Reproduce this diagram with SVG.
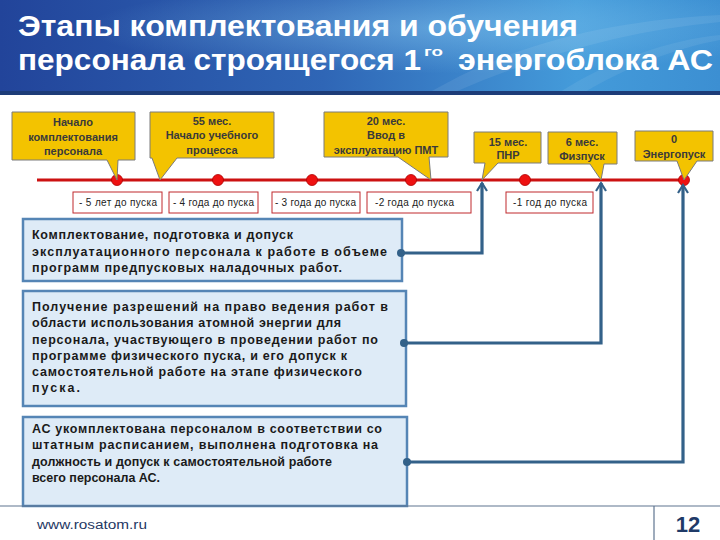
<svg xmlns="http://www.w3.org/2000/svg" width="720" height="540" viewBox="0 0 720 540">
  <defs>
    <linearGradient id="hdr" x1="0" y1="0" x2="1" y2="0">
      <stop offset="0" stop-color="#22449a"/>
      <stop offset="0.45" stop-color="#2f66b6"/>
      <stop offset="0.8" stop-color="#449bda"/>
      <stop offset="1" stop-color="#3c8fd2"/>
    </linearGradient>
    <radialGradient id="glow" cx="0.62" cy="0.3" r="0.5">
      <stop offset="0" stop-color="#8fd0f5" stop-opacity="0.45"/>
      <stop offset="1" stop-color="#8fd0f5" stop-opacity="0"/>
    </radialGradient>
    <marker id="arr" markerUnits="userSpaceOnUse" markerWidth="20" markerHeight="20" refX="0" refY="0" orient="auto" overflow="visible">
      <path d="M-8,-5 L0,0 L-8,5" fill="none" stroke="#336189" stroke-width="2.2"/>
    </marker>
  </defs>
  <style>
    .title{font-family:"Liberation Sans",Arial,sans-serif;font-weight:bold;font-size:29px;fill:#ffffff}
    .call{fill:#f3c300;stroke:#7a7a7a;stroke-width:1}
    .ct{font-family:"Liberation Sans",Arial,sans-serif;font-weight:bold;font-size:11px;fill:#3a3a3a;text-anchor:middle}
    .yl{fill:#ffffff;stroke:#c0282d;stroke-width:1}
    .yt{font-family:"Liberation Sans",Arial,sans-serif;font-size:10px;fill:#222222}
    .dot{fill:#ee1111;stroke:#b00000;stroke-width:0.8}
    .box{fill:#deebf7;stroke:#5585b5;stroke-width:2.5}
    .bt{font-family:"Liberation Sans",Arial,sans-serif;font-weight:bold;font-size:12.5px;fill:#1a1a1a}
    .con{fill:none;stroke:#336189;stroke-width:3.2;stroke-linejoin:miter}
    .cdot{fill:#336189}
  </style>

  <!-- header -->
  <g id="header">
    <rect x="0" y="0" width="720" height="92" fill="url(#hdr)"/>
    <rect x="0" y="0" width="720" height="92" fill="url(#glow)"/>
    <path d="M430,92 C520,40 620,20 720,15 L720,22 C630,30 540,55 455,92 Z" fill="#ffffff" opacity="0.08"/>
    <path d="M560,92 C610,60 670,40 720,35 L720,40 C675,48 625,68 585,92 Z" fill="#ffffff" opacity="0.07"/>
    <rect x="0" y="91" width="720" height="4" fill="#1d3c78"/>
    <text class="title" x="18" y="36" textLength="560" lengthAdjust="spacingAndGlyphs">Этапы комплектования и обучения</text>
    <text class="title" x="18" y="70" textLength="403" lengthAdjust="spacingAndGlyphs">персонала строящегося 1</text>
    <text class="title" x="424" y="56" style="font-size:13px" textLength="19" lengthAdjust="spacingAndGlyphs">го</text>
    <text class="title" x="458" y="70" textLength="255" lengthAdjust="spacingAndGlyphs">энергоблока АС</text>
  </g>

  <!-- timeline -->
  <g id="timeline">
    <line x1="37" y1="180" x2="688" y2="180" stroke="#cc1111" stroke-width="3"/>
    <circle class="dot" cx="117" cy="180" r="5.5"/>
    <circle class="dot" cx="218" cy="180" r="5.5"/>
    <circle class="dot" cx="312" cy="180" r="5.5"/>
    <circle class="dot" cx="411" cy="180" r="5.5"/>
    <circle class="dot" cx="525" cy="180" r="5.5"/>
    <circle class="dot" cx="684" cy="180" r="5.5"/>
  </g>

  <!-- callouts -->
  <g id="callout1">
    <path class="call" d="M12,112 H135 V160 H118 L117,180 L107,160 H12 Z"/>
    <text class="ct" x="73" y="126">Начало</text>
    <text class="ct" x="73" y="141">комплектования</text>
    <text class="ct" x="73" y="155">персонала</text>
  </g>
  <g id="callout2">
    <path class="call" d="M150,112 H274 V158 H177 L160,180 L152,158 H150 Z"/>
    <text class="ct" x="212" y="125">55 мес.</text>
    <text class="ct" x="212" y="139">Начало учебного</text>
    <text class="ct" x="212" y="154">процесса</text>
  </g>
  <g id="callout3">
    <path class="call" d="M324,112 H448 V157 H429 L431,180 L398,157 H324 Z"/>
    <text class="ct" x="386" y="125">20 мес.</text>
    <text class="ct" x="386" y="139">Ввод в</text>
    <text class="ct" x="386" y="154">эксплуатацию ПМТ</text>
  </g>
  <g id="callout4">
    <path class="call" d="M474,132 H541 V163 H498 L482,180 L485,163 H474 Z"/>
    <text class="ct" x="508" y="146">15 мес.</text>
    <text class="ct" x="508" y="159">ПНР</text>
  </g>
  <g id="callout5">
    <path class="call" d="M548,132 H617 V164 H604 L601,180 L590,164 H548 Z"/>
    <text class="ct" x="582" y="146">6 мес.</text>
    <text class="ct" x="582" y="160">Физпуск</text>
  </g>
  <g id="callout6">
    <path class="call" d="M635,131 H713 V161 H697 L684,180 L677,161 H635 Z"/>
    <text class="ct" x="674" y="143">0</text>
    <text class="ct" x="674" y="158">Энергопуск</text>
  </g>

  <!-- year labels -->
  <g id="year5">
    <rect class="yl" x="73" y="192" width="89" height="21"/>
    <text class="yt" x="79" y="206" textLength="78" lengthAdjust="spacing">- 5  лет до пуска</text>
  </g>
  <g id="year4">
    <rect class="yl" x="169" y="192" width="89" height="21"/>
    <text class="yt" x="173" y="206" textLength="81" lengthAdjust="spacing">- 4 года до пуска</text>
  </g>
  <g id="year3">
    <rect class="yl" x="272" y="192" width="88" height="21"/>
    <text class="yt" x="275" y="206" textLength="81" lengthAdjust="spacing">- 3 года до пуска</text>
  </g>
  <g id="year2">
    <rect class="yl" x="367" y="192" width="104" height="21"/>
    <text class="yt" x="375" y="206" textLength="79" lengthAdjust="spacing">-2 года до пуска</text>
  </g>
  <g id="year1">
    <rect class="yl" x="506" y="192" width="87" height="21"/>
    <text class="yt" x="513" y="206" textLength="74" lengthAdjust="spacing">-1 год до пуска</text>
  </g>

  <!-- text boxes -->
  <g id="boxA">
    <rect class="box" x="23" y="219" width="379" height="62"/>
    <text class="bt" x="32" y="239" textLength="261" lengthAdjust="spacing">Комплектование, подготовка и допуск</text>
    <text class="bt" x="32" y="256" textLength="355" lengthAdjust="spacing">эксплуатационного персонала к работе в объеме</text>
    <text class="bt" x="32" y="272" textLength="310" lengthAdjust="spacing">программ предпусковых наладочных работ.</text>
  </g>
  <g id="boxB">
    <rect class="box" x="23" y="291" width="383" height="115"/>
    <text class="bt" x="32" y="311" textLength="356" lengthAdjust="spacing">Получение разрешений на право ведения работ в</text>
    <text class="bt" x="32" y="327" textLength="309" lengthAdjust="spacing">области использования атомной энергии для</text>
    <text class="bt" x="32" y="344" textLength="346" lengthAdjust="spacing">персонала, участвующего в проведении работ по</text>
    <text class="bt" x="32" y="360" textLength="315" lengthAdjust="spacing">программе физического пуска, и  его допуск к</text>
    <text class="bt" x="32" y="376" textLength="330" lengthAdjust="spacing">самостоятельной работе на этапе физического</text>
    <text class="bt" x="32" y="392" textLength="48" lengthAdjust="spacing">пуска.</text>
  </g>
  <g id="boxC">
    <rect class="box" x="23" y="417" width="384" height="89"/>
    <text class="bt" x="32" y="433" textLength="350" lengthAdjust="spacing">АС укомплектована персоналом в соответствии со</text>
    <text class="bt" x="32" y="449" textLength="346" lengthAdjust="spacing">штатным расписанием, выполнена подготовка на</text>
    <text class="bt" x="32" y="466" textLength="300" lengthAdjust="spacing">должность и допуск к самостоятельной работе</text>
    <text class="bt" x="32" y="482" textLength="128" lengthAdjust="spacing">всего персонала АС.</text>
  </g>

  <!-- connectors -->
  <g id="connectors">
    <path class="con" d="M401,253 H482 V183" marker-end="url(#arr)"/>
    <path class="con" d="M404,343 H601 V183" marker-end="url(#arr)"/>
    <path class="con" d="M407,462 H683 V185" marker-end="url(#arr)"/>
    <circle class="cdot" cx="401" cy="253" r="4"/>
    <circle class="cdot" cx="404" cy="343" r="4"/>
    <circle class="cdot" cx="407" cy="462" r="4"/>
  </g>

  <!-- footer -->
  <g id="footer">
    <line x1="0" y1="506" x2="720" y2="506" stroke="#5f7590" stroke-width="1.2"/>
    <line x1="654" y1="506" x2="654" y2="540" stroke="#5f7590" stroke-width="1.2"/>
    <text x="37" y="529" font-family="'Liberation Sans',Arial,sans-serif" font-size="12" fill="#1f3864" textLength="110" lengthAdjust="spacingAndGlyphs">www.rosatom.ru</text>
    <text x="688" y="532" font-family="'Liberation Sans',Arial,sans-serif" font-weight="bold" font-size="22" fill="#1f3a68" text-anchor="middle">12</text>
  </g>
</svg>
